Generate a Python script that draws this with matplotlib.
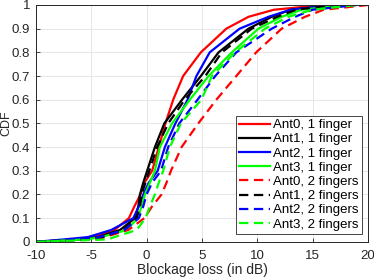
import matplotlib
matplotlib.use("Agg")
import matplotlib.pyplot as plt
import numpy as np

cdf_levels = [0, 0.01, 0.02, 0.05, 0.1, 0.15, 0.2, 0.25, 0.3, 0.4, 0.5, 0.6, 0.7, 0.8, 0.9, 0.95, 0.98, 1.0]

ant0_1f = [-10, -6.5, -4.8, -2.9, -1.6, -1.1, -0.55, -0.2, 0.5, 1.1, 1.7, 2.4, 3.3, 4.9, 7.2, 9.2, 11.5, 16]
ant1_1f = [-10, -6.0, -4.4, -2.4, -1.05, -0.75, -0.6, -0.3, 0.05, 0.75, 1.6, 3.2, 4.9, 6.5, 9.2, 11.3, 13, 17]
ant2_1f = [-10, -7.5, -5.3, -3.2, -1.2, -0.7, -0.3, 0.2, 1.0, 1.65, 2.6, 3.7, 4.5, 5.7, 8.4, 11.0, 13, 17]
ant3_1f = [-10, -5.5, -4.1, -1.8, -0.8, -0.45, -0.15, 0.3, 0.75, 1.2, 2.3, 3.9, 5.6, 7.7, 10.1, 12.2, 14, 18]
ant0_2f = [-10, -4.5, -3.8, -1.65, -0.2, 0.5, 1.35, 1.8, 2.2, 3.16, 4.67, 6.3, 8.1, 9.9, 12.2, 14.3, 16, 20]
ant1_2f = [-10, -5.5, -4.0, -2.1, -0.9, -0.6, -0.45, -0.1, 0.25, 0.95, 1.95, 3.45, 5.3, 6.8, 9.5, 11.8, 13.5, 17]
ant2_2f = [-10, -5.5, -4.3, -2.0, -0.7, -0.3, 0.0, 0.5, 1.3, 1.95, 2.95, 4.6, 6.2, 8.1, 11.3, 13.4, 15, 19]
ant3_2f = [-10, -3.5, -2.9, -0.9, -0.1, 0.3, 0.75, 1.1, 1.5, 2.1, 3.1, 4.95, 5.9, 8.0, 10.7, 12.8, 15, 19]

labels = ["Ant0, 1 finger", "Ant1, 1 finger", "Ant2, 1 finger", "Ant3, 1 finger",
          "Ant0, 2 fingers", "Ant1, 2 fingers", "Ant2, 2 fingers", "Ant3, 2 fingers"]
series = [ant0_1f, ant1_1f, ant2_1f, ant3_1f, ant0_2f, ant1_2f, ant2_2f, ant3_2f]
colors = ["#ff0000", "#000000", "#0000ff", "#00ff00"] * 2
styles = ["-"] * 4 + ["--"] * 4

x_ticks = [-10, -5, 0, 5, 10, 15, 20]
y_ticks = [0, 0.1, 0.2, 0.3, 0.4, 0.5, 0.6, 0.7, 0.8, 0.9, 1.0]
y_ticklabels = ["0", "0.1", "0.2", "0.3", "0.4", "0.5", "0.6", "0.7", "0.8", "0.9", "1"]

plt.rcParams['font.family'] = ['Liberation Sans', 'DejaVu Sans']
fig = plt.figure(figsize=(3.74, 2.77), dpi=100)
ax = fig.add_axes([0.096, 0.127, 0.888, 0.855])

for xs, lab, c, ls in zip(series, labels, colors, styles):
    if ls == "--":
        ax.plot(xs, cdf_levels, color=c, lw=1.6, linestyle=(0, (4.2, 2.5)), label=lab)
    else:
        ax.plot(xs, cdf_levels, color=c, lw=1.6, linestyle=ls, label=lab)

ax.set_xlim(-10, 20)
ax.set_ylim(0, 1)
ax.set_xticks(x_ticks)
ax.set_xticklabels([str(t) for t in x_ticks])
ax.set_yticks(y_ticks)
ax.set_yticklabels(y_ticklabels)
ax.grid(True, color="#e6e6e6", lw=0.7)
ax.set_axisbelow(True)
ax.tick_params(direction="in", length=3, labelsize=9.5, colors="#262626", width=0.6)
ax.tick_params(axis="x", pad=6)
ax.tick_params(axis="y", pad=4)
for s in ax.spines.values():
    s.set_color("#262626")
    s.set_linewidth(0.7)
ax.set_xlabel("Blockage loss (in dB)", fontsize=10, color="#262626")
ax.set_ylabel("CDF", fontsize=9, color="#262626")
ax.xaxis.set_label_coords(0.5, -0.09)
ax.yaxis.set_label_coords(-0.0708, 0.5)

leg = ax.legend(loc="lower right", bbox_to_anchor=(0.982, 0.033), fontsize=9.5,
                handlelength=2.35, handletextpad=0.2, labelspacing=0.15,
                borderpad=0.25, borderaxespad=0.0, fancybox=False, framealpha=1)
leg.get_frame().set_edgecolor("#262626")
leg.get_frame().set_linewidth(0.6)

fig.savefig("out.png", dpi=100)
